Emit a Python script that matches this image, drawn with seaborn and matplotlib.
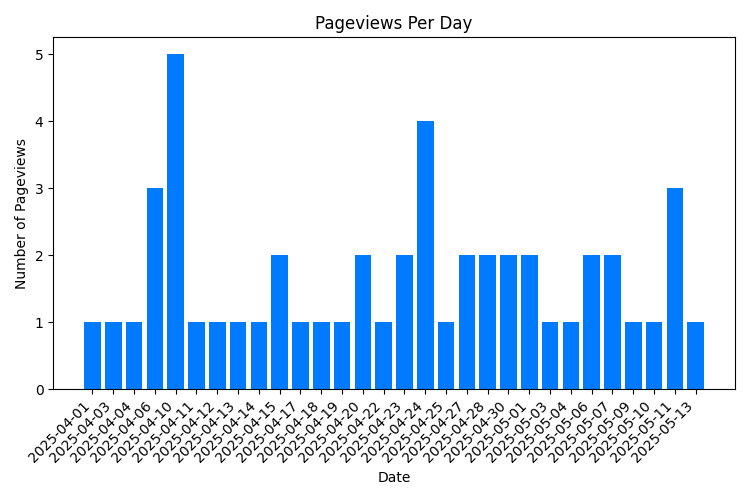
import matplotlib
matplotlib.use("Agg")
import matplotlib.pyplot as plt
import seaborn as sns
import pandas as pd

dates = ["2025-04-01","2025-04-03","2025-04-04","2025-04-06","2025-04-10","2025-04-11",
         "2025-04-12","2025-04-13","2025-04-14","2025-04-15","2025-04-17","2025-04-18",
         "2025-04-19","2025-04-20","2025-04-22","2025-04-23","2025-04-24","2025-04-25",
         "2025-04-27","2025-04-28","2025-04-30","2025-05-01","2025-05-03","2025-05-04",
         "2025-05-06","2025-05-07","2025-05-09","2025-05-10","2025-05-11","2025-05-13"]
views = [1,1,1,3,5,1,1,1,1,2,1,1,1,2,1,2,4,1,2,2,2,2,1,1,2,2,1,1,3,1]

df = pd.DataFrame({"Date": dates, "Views": views})
fig, ax = plt.subplots(figsize=(7.5, 5), dpi=100)
sns.barplot(data=df, x="Date", y="Views", color="#007bff", saturation=1, width=0.8, ax=ax)
n = len(dates)
span = n - 1 + 0.8
ax.set_xlim(-0.4 - 0.05 * span, n - 1 + 0.4 + 0.05 * span)
ax.set_title("Pageviews Per Day")
ax.set_xlabel("Date")
ax.set_ylabel("Number of Pageviews")
plt.setp(ax.get_xticklabels(), rotation=45, ha="right")
fig.tight_layout()
fig.savefig("out.png")
